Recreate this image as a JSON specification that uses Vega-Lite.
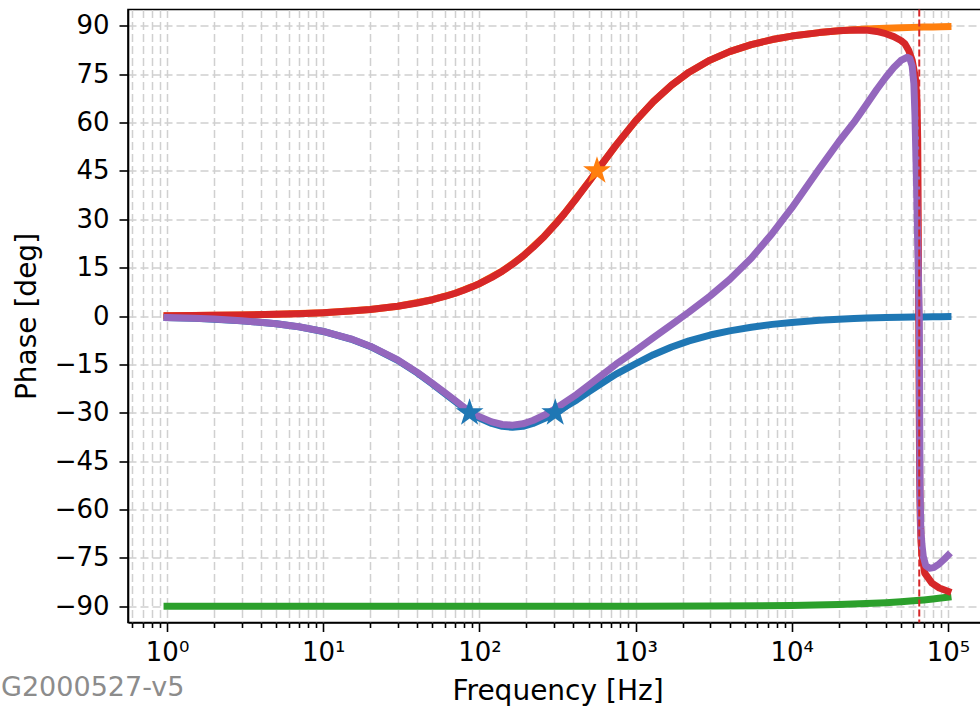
{
  "$schema": "https://vega.github.io/schema/vega-lite/v6.json",
  "width": 859,
  "height": 613,
  "autosize": {"type": "none"},
  "padding": {"left": 128, "top": 9.5, "right": 0, "bottom": 86},
  "background": "white",
  "config": {
    "font": "DejaVu Sans",
    "view": {"stroke": "black", "strokeWidth": 1.6},
    "axis": {
      "grid": true,
      "gridDash": [8, 4],
      "gridColor": "#d0d0d0",
      "gridWidth": 1.5,
      "tickColor": "black",
      "tickWidth": 1.6,
      "domainColor": "black",
      "domainWidth": 1.6,
      "labelColor": "black",
      "labelFont": "DejaVu Sans",
      "labelFontSize": 26,
      "titleFont": "DejaVu Sans",
      "titleFontSize": 28,
      "titleFontWeight": "normal",
      "titleColor": "black"
    }
  },
  "title": {
    "text": "G2000527-v5",
    "orient": "bottom",
    "anchor": "start",
    "frame": "group",
    "dx": -127,
    "offset": -10,
    "baseline": "alphabetic",
    "fontSize": 27,
    "fontWeight": "normal",
    "font": "DejaVu Sans",
    "color": "#8c8c8c"
  },
  "datasets": {
    "lines": [
      {"s":"C0","f":1,"v":-0.48},{"s":"C0","f":1.5,"v":-0.72},{"s":"C0","f":2,"v":-0.97},{"s":"C0","f":3,"v":-1.45},{"s":"C0","f":5,"v":-2.41},{"s":"C0","f":7,"v":-3.37},{"s":"C0","f":10,"v":-4.8},{"s":"C0","f":15,"v":-7.14},{"s":"C0","f":20,"v":-9.43},{"s":"C0","f":30,"v":-13.74},{"s":"C0","f":40,"v":-17.63},{"s":"C0","f":50,"v":-21.06},{"s":"C0","f":60,"v":-24.0},{"s":"C0","f":70,"v":-26.47},{"s":"C0","f":80,"v":-28.7},{"s":"C0","f":90,"v":-30.6},{"s":"C0","f":100,"v":-31.6},{"s":"C0","f":120,"v":-33.3},{"s":"C0","f":140,"v":-34.2},{"s":"C0","f":163,"v":-34.5},{"s":"C0","f":190,"v":-34.2},{"s":"C0","f":220,"v":-33.3},{"s":"C0","f":260,"v":-31.8},{"s":"C0","f":306,"v":-30.0},{"s":"C0","f":350,"v":-28.3},{"s":"C0","f":420,"v":-26.0},{"s":"C0","f":500,"v":-23.5},{"s":"C0","f":600,"v":-21.0},{"s":"C0","f":750,"v":-18.0},{"s":"C0","f":1000,"v":-14.8},{"s":"C0","f":1300,"v":-12.0},{"s":"C0","f":1700,"v":-9.6},{"s":"C0","f":2200,"v":-7.7},{"s":"C0","f":3000,"v":-5.9},{"s":"C0","f":4000,"v":-4.6},{"s":"C0","f":5500,"v":-3.5},{"s":"C0","f":7500,"v":-2.6},{"s":"C0","f":10000,"v":-2.0},{"s":"C0","f":15000,"v":-1.35},{"s":"C0","f":20000,"v":-1.0},{"s":"C0","f":25000,"v":-0.8},{"s":"C0","f":30000,"v":-0.65},{"s":"C0","f":40000,"v":-0.5},{"s":"C0","f":50000,"v":-0.4},{"s":"C0","f":60000,"v":-0.32},{"s":"C0","f":70000,"v":-0.28},{"s":"C0","f":80000,"v":-0.25},{"s":"C0","f":90000,"v":-0.22},{"s":"C0","f":100000,"v":-0.2},

      {"s":"C1","f":1,"v":0.10},{"s":"C1","f":2,"v":0.20},{"s":"C1","f":3,"v":0.30},{"s":"C1","f":5,"v":0.51},{"s":"C1","f":10,"v":1.01},{"s":"C1","f":20,"v":2.02},{"s":"C1","f":30,"v":3.03},{"s":"C1","f":50,"v":5.05},{"s":"C1","f":70,"v":7.05},{"s":"C1","f":100,"v":10.02},{"s":"C1","f":140,"v":13.89},{"s":"C1","f":190,"v":18.56},{"s":"C1","f":260,"v":24.67},{"s":"C1","f":350,"v":31.73},{"s":"C1","f":500,"v":41.46},{"s":"C1","f":600,"v":46.67},{"s":"C1","f":750,"v":52.96},{"s":"C1","f":1000,"v":60.49},{"s":"C1","f":1300,"v":66.47},{"s":"C1","f":1700,"v":71.58},{"s":"C1","f":2200,"v":75.57},{"s":"C1","f":3000,"v":79.32},{"s":"C1","f":4000,"v":81.95},{"s":"C1","f":5500,"v":84.12},{"s":"C1","f":7500,"v":85.68},{"s":"C1","f":10000,"v":86.76},{"s":"C1","f":15000,"v":87.84},{"s":"C1","f":20000,"v":88.38},{"s":"C1","f":25000,"v":88.70},{"s":"C1","f":30000,"v":88.92},{"s":"C1","f":40000,"v":89.19},{"s":"C1","f":50000,"v":89.35},{"s":"C1","f":60000,"v":89.46},{"s":"C1","f":70000,"v":89.54},{"s":"C1","f":80000,"v":89.59},{"s":"C1","f":90000,"v":89.64},{"s":"C1","f":100000,"v":89.68},

      {"s":"C2","f":1,"v":-90.0},{"s":"C2","f":10,"v":-90.0},{"s":"C2","f":100,"v":-90.0},{"s":"C2","f":1000,"v":-89.97},{"s":"C2","f":3000,"v":-89.91},{"s":"C2","f":10000,"v":-89.71},{"s":"C2","f":20000,"v":-89.43},{"s":"C2","f":30000,"v":-89.14},{"s":"C2","f":40000,"v":-88.85},{"s":"C2","f":50000,"v":-88.57},{"s":"C2","f":60000,"v":-88.28},{"s":"C2","f":70000,"v":-88.0},{"s":"C2","f":80000,"v":-87.71},{"s":"C2","f":90000,"v":-87.42},{"s":"C2","f":100000,"v":-87.14},

      {"s":"C3","f":1,"v":0.10},{"s":"C3","f":1.5,"v":0.15},{"s":"C3","f":2,"v":0.20},{"s":"C3","f":3,"v":0.30},{"s":"C3","f":5,"v":0.51},{"s":"C3","f":7,"v":0.71},{"s":"C3","f":10,"v":1.01},{"s":"C3","f":15,"v":1.52},{"s":"C3","f":20,"v":2.02},{"s":"C3","f":30,"v":3.03},{"s":"C3","f":40,"v":4.04},{"s":"C3","f":50,"v":5.05},{"s":"C3","f":60,"v":6.05},{"s":"C3","f":70,"v":7.05},{"s":"C3","f":80,"v":8.04},{"s":"C3","f":90,"v":9.04},{"s":"C3","f":100,"v":10.02},{"s":"C3","f":120,"v":11.97},{"s":"C3","f":140,"v":13.89},{"s":"C3","f":163,"v":16.07},{"s":"C3","f":190,"v":18.56},{"s":"C3","f":220,"v":21.24},{"s":"C3","f":260,"v":24.67},{"s":"C3","f":306,"v":28.39},{"s":"C3","f":350,"v":31.73},{"s":"C3","f":420,"v":36.58},{"s":"C3","f":500,"v":41.46},{"s":"C3","f":600,"v":46.67},{"s":"C3","f":750,"v":52.96},{"s":"C3","f":1000,"v":60.49},{"s":"C3","f":1300,"v":66.47},{"s":"C3","f":1700,"v":71.58},{"s":"C3","f":2200,"v":75.57},{"s":"C3","f":3000,"v":79.32},{"s":"C3","f":4000,"v":81.95},{"s":"C3","f":5500,"v":84.12},{"s":"C3","f":7500,"v":85.68},{"s":"C3","f":10000,"v":86.76},{"s":"C3","f":15000,"v":87.84},{"s":"C3","f":20000,"v":88.38},{"s":"C3","f":25000,"v":88.65},{"s":"C3","f":30000,"v":88.6},{"s":"C3","f":35000,"v":88.2},{"s":"C3","f":40000,"v":87.5},{"s":"C3","f":45000,"v":86.6},{"s":"C3","f":50000,"v":85.4},{"s":"C3","f":53000,"v":84.4},{"s":"C3","f":56000,"v":82.4},{"s":"C3","f":59000,"v":79.3},{"s":"C3","f":61800,"v":74},{"s":"C3","f":63300,"v":67},{"s":"C3","f":64000,"v":55},{"s":"C3","f":64500,"v":30},{"s":"C3","f":65000,"v":0},{"s":"C3","f":65500,"v":-30},{"s":"C3","f":65900,"v":-50},{"s":"C3","f":66500,"v":-63},{"s":"C3","f":67200,"v":-70},{"s":"C3","f":68200,"v":-74},{"s":"C3","f":71000,"v":-79.7},{"s":"C3","f":79000,"v":-82.8},{"s":"C3","f":88000,"v":-84.3},{"s":"C3","f":100000,"v":-85.3},

      {"s":"C4","f":1,"v":-0.48},{"s":"C4","f":1.5,"v":-0.71},{"s":"C4","f":2,"v":-0.96},{"s":"C4","f":3,"v":-1.44},{"s":"C4","f":5,"v":-2.39},{"s":"C4","f":7,"v":-3.34},{"s":"C4","f":10,"v":-4.76},{"s":"C4","f":15,"v":-7.08},{"s":"C4","f":20,"v":-9.35},{"s":"C4","f":30,"v":-13.62},{"s":"C4","f":40,"v":-17.47},{"s":"C4","f":50,"v":-20.86},{"s":"C4","f":60,"v":-23.75},{"s":"C4","f":70,"v":-26.18},{"s":"C4","f":80,"v":-28.37},{"s":"C4","f":90,"v":-30.23},{"s":"C4","f":100,"v":-31.19},{"s":"C4","f":120,"v":-32.81},{"s":"C4","f":140,"v":-33.63},{"s":"C4","f":163,"v":-33.83},{"s":"C4","f":190,"v":-33.42},{"s":"C4","f":220,"v":-32.4},{"s":"C4","f":260,"v":-30.74},{"s":"C4","f":306,"v":-28.75},{"s":"C4","f":350,"v":-26.87},{"s":"C4","f":420,"v":-24.28},{"s":"C4","f":500,"v":-21.45},{"s":"C4","f":600,"v":-18.55},{"s":"C4","f":750,"v":-14.93},{"s":"C4","f":1000,"v":-10.71},{"s":"C4","f":1300,"v":-6.7},{"s":"C4","f":1700,"v":-2.68},{"s":"C4","f":2200,"v":1.23},{"s":"C4","f":3000,"v":6.2},{"s":"C4","f":4000,"v":11.3},{"s":"C4","f":5500,"v":17.9},{"s":"C4","f":7500,"v":25.6},{"s":"C4","f":10000,"v":33.5},{"s":"C4","f":15000,"v":45.65},{"s":"C4","f":20000,"v":54.0},{"s":"C4","f":25000,"v":60.0},{"s":"C4","f":30000,"v":65.5},{"s":"C4","f":35000,"v":70.2},{"s":"C4","f":40000,"v":74.0},{"s":"C4","f":45000,"v":77.0},{"s":"C4","f":50000,"v":79.2},{"s":"C4","f":55000,"v":80.2},{"s":"C4","f":57000,"v":79.8},{"s":"C4","f":59000,"v":77.5},{"s":"C4","f":60500,"v":72},{"s":"C4","f":61500,"v":62},{"s":"C4","f":63000,"v":40},{"s":"C4","f":64500,"v":15},{"s":"C4","f":65500,"v":0},{"s":"C4","f":65900,"v":-30},{"s":"C4","f":66300,"v":-55},{"s":"C4","f":67000,"v":-66},{"s":"C4","f":68000,"v":-70.5},{"s":"C4","f":69500,"v":-74.5},{"s":"C4","f":72000,"v":-77.3},{"s":"C4","f":76000,"v":-78.2},{"s":"C4","f":81000,"v":-78.0},{"s":"C4","f":88000,"v":-76.8},{"s":"C4","f":95000,"v":-75.3},{"s":"C4","f":100000,"v":-74.2}
    ],
    "stars": [
      {"s":"C0","f":86.5,"v":-30},
      {"s":"C0","f":306,"v":-30},
      {"s":"C1","f":566,"v":45}
    ],
    "vline": [{"f": 65500}]
  },
  "layer": [
    {
      "data": {"name": "lines"},
      "mark": {"type": "line", "strokeWidth": 7, "strokeCap": "square", "strokeJoin": "round"},
      "encoding": {
        "x": {
          "field": "f",
          "type": "quantitative",
          "scale": {"type": "log", "domain": [0.56234, 177828], "nice": false},
          "axis": {
            "title": "Frequency [Hz]",
            "values": [0.6,0.7,0.8,0.9,1,2,3,4,5,6,7,8,9,10,20,30,40,50,60,70,80,90,100,200,300,400,500,600,700,800,900,1000,2000,3000,4000,5000,6000,7000,8000,9000,10000,20000,30000,40000,50000,60000,70000,80000,90000,100000],
            "labelExpr": "datum.value == 1 ? '10⁰' : datum.value == 10 ? '10¹' : datum.value == 100 ? '10²' : datum.value == 1000 ? '10³' : datum.value == 10000 ? '10⁴' : datum.value == 100000 ? '10⁵' : ''",
            "tickSize": {"condition": {"test": "indexof([1,10,100,1000,10000,100000], datum.value) >= 0", "value": 9}, "value": 5},
            "labelOverlap": false,
            "labelFlush": false,
            "labelPadding": 8,
            "titlePadding": 12
          }
        },
        "y": {
          "field": "v",
          "type": "quantitative",
          "scale": {"domain": [-95, 95], "nice": false, "zero": false},
          "axis": {
            "title": "Phase [deg]",
            "values": [-90,-75,-60,-45,-30,-15,0,15,30,45,60,75,90],
            "tickSize": 9,
            "labelPadding": 10,
            "titlePadding": 13
          }
        },
        "color": {
          "field": "s",
          "type": "nominal",
          "scale": {"domain": ["C0","C1","C2","C3","C4"], "range": ["#1f77b4","#ff7f0e","#2ca02c","#d62728","#9467bd"]},
          "legend": null
        }
      }
    },
    {
      "data": {"name": "vline"},
      "mark": {"type": "rule", "color": "#d62728", "strokeWidth": 2, "strokeDash": [7, 3]},
      "encoding": {
        "x": {"field": "f", "type": "quantitative"}
      }
    },
    {
      "data": {"name": "stars"},
      "mark": {"type": "point", "shape": "M0,-1L0.2245,-0.309L0.9511,-0.309L0.3633,0.118L0.5878,0.809L0,0.382L-0.5878,0.809L-0.3633,0.118L-0.9511,-0.309L-0.2245,-0.309Z", "filled": true, "opacity": 1, "size": 860},
      "encoding": {
        "x": {"field": "f", "type": "quantitative"},
        "y": {"field": "v", "type": "quantitative"},
        "color": {"field": "s", "type": "nominal", "legend": null}
      }
    }
  ]
}
